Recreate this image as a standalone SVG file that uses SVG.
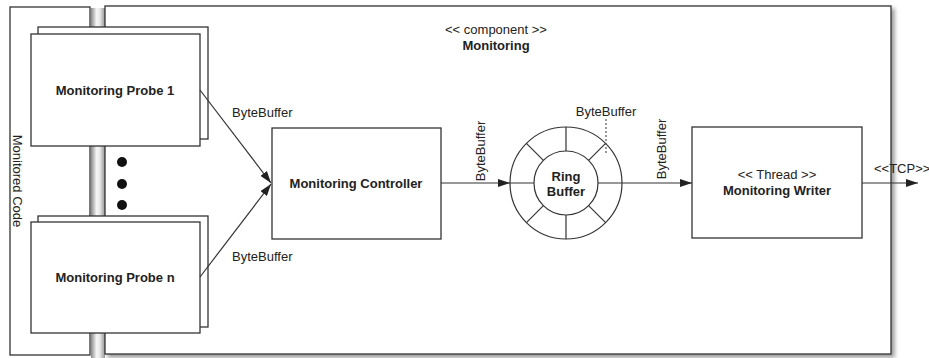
<svg xmlns="http://www.w3.org/2000/svg" width="929" height="358" viewBox="0 0 929 358">
<defs>
<style>
.box{fill:#fff;stroke:#333;stroke-width:1.3}
.ln{fill:none;stroke:#333;stroke-width:1.2}
.t{font-family:"Liberation Sans",Arial,sans-serif;font-size:13px;fill:#222}
.b{font-weight:bold}
</style>
<linearGradient id="pipe" x1="0" y1="0" x2="1" y2="0">
<stop offset="0" stop-color="#8a8a8a"/>
<stop offset="0.4" stop-color="#f6f6f6"/>
<stop offset="0.6" stop-color="#ececec"/>
<stop offset="1" stop-color="#9a9a9a"/>
</linearGradient>
<filter id="sh" x="-5%" y="-5%" width="115%" height="115%">
<feDropShadow dx="3" dy="3" stdDeviation="2" flood-color="#000" flood-opacity="0.4"/>
</filter>
<marker id="ar" viewBox="0 0 12 8" refX="12" refY="4" markerWidth="12" markerHeight="8" markerUnits="userSpaceOnUse" orient="auto">
<path d="M0,0 L12,4 L0,8 z" fill="#222"/>
</marker>
</defs>

<rect x="91" y="8" width="14" height="350" fill="url(#pipe)"/>

<g id="monitored-code">
<rect class="box" x="10" y="7" width="80" height="348"/>
<text class="t" transform="translate(13,181) rotate(90)" text-anchor="middle">Monitored Code</text>
</g>

<g id="monitoring">
<rect class="box" x="105" y="6" width="786" height="348" stroke-width="1.6" filter="url(#sh)"/>
<text class="t" x="496" y="34" text-anchor="middle">&lt;&lt; component &gt;&gt;</text>
<text class="t b" x="496" y="50" text-anchor="middle">Monitoring</text>
</g>

<g id="probe-1">
<rect class="box" x="38" y="27" width="170" height="112"/>
<rect class="box" x="31" y="34" width="169" height="112"/>
<text class="t b" x="115" y="95" text-anchor="middle">Monitoring Probe 1</text>
</g>

<g id="dots" fill="#111">
<circle cx="122" cy="162" r="5"/>
<circle cx="122" cy="184" r="5"/>
<circle cx="122" cy="205" r="5"/>
</g>

<g id="probe-n">
<rect class="box" x="38" y="216" width="170" height="111"/>
<rect class="box" x="31" y="222" width="169" height="111"/>
<text class="t b" x="115" y="282" text-anchor="middle">Monitoring Probe n</text>
</g>

<g id="controller">
<rect class="box" x="272" y="128" width="169" height="111"/>
<text class="t b" x="356" y="188" text-anchor="middle">Monitoring Controller</text>
</g>

<g id="ring-buffer" class="ln">
<circle cx="566" cy="183" r="56"/>
<circle cx="566" cy="183" r="32" fill="#fff"/>
<path d="M566,127 V151 M566,215 V239 M510,183 H534 M598,183 H622 M526.4,143.4 L543.4,160.4 M588.6,205.6 L605.6,222.6 M605.6,143.4 L588.6,160.4 M543.4,205.6 L526.4,222.6"/>
<text class="t b" x="566" y="181" text-anchor="middle" stroke="none">Ring</text>
<text class="t b" x="566" y="196" text-anchor="middle" stroke="none">Buffer</text>
</g>

<g id="writer">
<rect class="box" x="692" y="127" width="170" height="111"/>
<text class="t" x="777" y="179" text-anchor="middle">&lt;&lt; Thread &gt;&gt;</text>
<text class="t b" x="777" y="195" text-anchor="middle">Monitoring Writer</text>
</g>

<g id="connectors">
<line class="ln" x1="200" y1="90" x2="271" y2="183" marker-end="url(#ar)"/>
<line class="ln" x1="200" y1="277" x2="271" y2="184" marker-end="url(#ar)"/>
<line class="ln" x1="441" y1="183" x2="510" y2="183" marker-end="url(#ar)"/>
<line class="ln" x1="622" y1="183" x2="692" y2="183" marker-end="url(#ar)"/>
<line class="ln" x1="862" y1="183" x2="918" y2="183" marker-end="url(#ar)"/>
<line x1="606" y1="119" x2="606" y2="153" stroke="#555" stroke-width="1.2" stroke-dasharray="2,2"/>
<text class="t" x="232" y="117">ByteBuffer</text>
<text class="t" x="232" y="261">ByteBuffer</text>
<text class="t" transform="translate(485,151) rotate(-90)" text-anchor="middle">ByteBuffer</text>
<text class="t" transform="translate(666,149) rotate(-90)" text-anchor="middle">ByteBuffer</text>
<text class="t" x="606" y="116" text-anchor="middle">ByteBuffer</text>
<text class="t" x="874" y="173">&lt;&lt;TCP&gt;&gt;</text>
</g>
</svg>
